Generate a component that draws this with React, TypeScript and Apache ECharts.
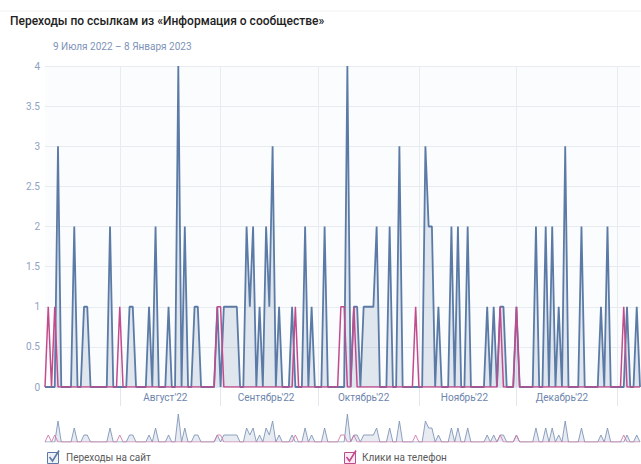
import React, { useEffect, useRef } from "react";
import * as echarts from "echarts";

const TITLE = "Переходы по ссылкам из «Информация о сообществе»";
const SUBTITLE = "9 Июля 2022 – 8 Января 2023";
const SERIES_NAMES = ["Переходы на сайт", "Клики на телефон"];

const START_DATE = Date.UTC(2022, 6, 9);
const DAY_COUNT = 184;

const MONTH_LABELS: Record<string, string> = {
  "08": "Август'22",
  "09": "Сентябрь'22",
  "10": "Октябрь'22",
  "11": "Ноябрь'22",
  "12": "Декабрь'22",
};

const Y_TICKS = { min: 0, max: 4, interval: 0.5 };

// Переходы на сайт (daily, 9 Jul 2022 – 8 Jan 2023)
const siteVisits = [
  0, 0, 0, 0, 3, 0, 0, 0, 0, 2,
  0, 0, 1, 1, 0, 0, 0, 0, 0, 0,
  2, 0, 0, 0, 0, 0, 1, 1, 0, 0,
  0, 0, 1, 0, 2, 0, 0, 0, 1, 0,
  0, 4, 0, 2, 0, 0, 1, 1, 0, 0,
  0, 0, 0, 1, 0, 1, 1, 1, 1, 1,
  0, 0, 2, 1, 2, 0, 1, 0, 2, 1,
  3, 0, 1, 0, 0, 0, 1, 0, 0, 0,
  2, 0, 1, 0, 0, 0, 2, 0, 0, 0,
  0, 0, 0, 4, 0, 1, 1, 0, 1, 1,
  1, 1, 2, 0, 0, 0, 2, 0, 0, 3,
  0, 0, 0, 0, 0, 0, 0, 3, 2, 2,
  0, 1, 0, 0, 0, 2, 0, 2, 0, 0,
  2, 0, 0, 0, 0, 0, 1, 0, 1, 0,
  1, 1, 0, 0, 0, 1, 0, 0, 0, 0,
  0, 2, 0, 0, 2, 0, 2, 0, 1, 0,
  3, 0, 0, 0, 0, 2, 0, 0, 0, 0,
  0, 1, 0, 2, 0, 0, 0, 0, 0, 1,
  0, 0, 1, 0,
];

// Клики на телефон
const phoneClicks = [
  0, 1, 0, 1, 0, 0, 0, 0, 0, 0,
  0, 0, 0, 0, 0, 0, 0, 0, 0, 0,
  0, 0, 0, 1, 0, 0, 0, 0, 0, 0,
  0, 0, 0, 0, 0, 0, 0, 0, 0, 0,
  0, 0, 0, 0, 0, 0, 0, 0, 0, 0,
  0, 0, 0, 1, 1, 0, 0, 0, 0, 0,
  0, 0, 0, 0, 0, 0, 0, 0, 0, 0,
  0, 0, 0, 0, 0, 0, 0, 1, 0, 0,
  0, 0, 0, 0, 0, 0, 0, 0, 0, 0,
  0, 1, 1, 0, 0, 1, 0, 0, 0, 0,
  0, 0, 0, 0, 0, 0, 0, 0, 0, 0,
  0, 0, 0, 0, 1, 0, 0, 0, 0, 0,
  0, 0, 0, 0, 0, 0, 0, 0, 0, 0,
  0, 0, 0, 0, 0, 0, 0, 0, 0, 0,
  1, 0, 0, 0, 0, 1, 0, 0, 0, 0,
  0, 0, 0, 0, 0, 0, 0, 0, 0, 0,
  0, 0, 0, 0, 0, 0, 0, 0, 0, 0,
  0, 0, 0, 0, 0, 0, 0, 0, 1, 0,
  0, 0, 0, 0,
];

const pad = (n: number) => (n < 10 ? "0" + n : "" + n);
const categories: string[] = Array.from({ length: DAY_COUNT }, (_, i) => {
  const d = new Date(START_DATE + i * 86400000);
  return `${d.getUTCFullYear()}-${pad(d.getUTCMonth() + 1)}-${pad(d.getUTCDate())}`;
});

const BLUE = "#5b7ba6";
const PINK = "#c24b8d";
const FONT = "Roboto, 'Noto Sans', sans-serif";

export default function App() {
  const ref = useRef<HTMLDivElement>(null);

  useEffect(() => {
    if (!ref.current) return;
    const chart = echarts.init(ref.current, undefined, { renderer: "svg" });
    const isMonthStart = (_i: number, v: string) => v.endsWith("-01");
    const isMonthLabel = (_i: number, v: string) =>
      v.endsWith("-15") && MONTH_LABELS[v.slice(5, 7)] !== undefined;

    chart.setOption({
      animation: false,
      backgroundColor: "#ffffff",
      textStyle: { fontFamily: FONT },
      grid: [
        {
          left: 45,
          top: 66,
          width: 595,
          height: 321,
          show: true,
          backgroundColor: "#fbfcfd",
          borderWidth: 0,
        },
        { left: 45, top: 414, width: 595, height: 28 },
      ],
      xAxis: [
        {
          type: "category",
          gridIndex: 0,
          data: categories,
          boundaryGap: false,
          axisLine: { show: true, lineStyle: { color: "#e3e7ed" } },
          axisTick: {
            show: true,
            interval: isMonthStart,
            length: 19,
            lineStyle: { color: "#e3e7ed" },
          },
          splitLine: {
            show: true,
            interval: isMonthStart,
            lineStyle: { color: "#e8ebf0", width: 1 },
          },
          axisLabel: {
            interval: isMonthLabel,
            formatter: (v: string) => MONTH_LABELS[v.slice(5, 7)] || "",
            color: "#6d85ad",
            fontSize: 10,
            margin: 5,
            fontFamily: FONT,
          },
        },
        {
          type: "category",
          gridIndex: 1,
          data: categories,
          boundaryGap: false,
          show: false,
        },
      ],
      yAxis: [
        {
          type: "value",
          gridIndex: 0,
          min: Y_TICKS.min,
          max: Y_TICKS.max,
          interval: Y_TICKS.interval,
          axisLine: { show: false },
          axisTick: { show: false },
          splitLine: { lineStyle: { color: "#e8ebf0" } },
          axisLabel: { color: "#8ea2c2", fontSize: 10, margin: 5, fontFamily: FONT },
        },
        { type: "value", gridIndex: 1, min: 0, max: 4, show: false },
      ],
      series: [
        {
          name: SERIES_NAMES[0],
          type: "line",
          xAxisIndex: 0,
          yAxisIndex: 0,
          data: siteVisits,
          showSymbol: false,
          lineStyle: { color: BLUE, width: 1.8 },
          itemStyle: { color: BLUE },
          areaStyle: { color: "rgba(91,123,166,0.24)" },
        },
        {
          name: SERIES_NAMES[1],
          type: "line",
          xAxisIndex: 0,
          yAxisIndex: 0,
          data: phoneClicks,
          showSymbol: false,
          lineStyle: { color: PINK, width: 1.5 },
          itemStyle: { color: PINK },
        },
        {
          name: SERIES_NAMES[0] + " ",
          type: "line",
          xAxisIndex: 1,
          yAxisIndex: 1,
          data: siteVisits,
          showSymbol: false,
          silent: true,
          lineStyle: { color: "#7f96b8", width: 0.9 },
          areaStyle: { color: "rgba(91,123,166,0.2)" },
        },
        {
          name: SERIES_NAMES[1] + " ",
          type: "line",
          xAxisIndex: 1,
          yAxisIndex: 1,
          data: phoneClicks,
          showSymbol: false,
          silent: true,
          lineStyle: { color: "#d07aaa", width: 0.9 },
        },
      ],
      graphic: [
        {
          type: "line",
          shape: { x1: 0, y1: 11, x2: 641, y2: 11 },
          style: { stroke: "#f0f1f3", lineWidth: 1 },
        },
        {
          type: "text",
          left: 10,
          top: 15,
          style: {
            text: TITLE,
            fill: "#222222",
            fontSize: 12,
            fontWeight: 500,
            fontFamily: FONT,
          },
        },
        {
          type: "text",
          left: 53,
          top: 41,
          style: {
            text: SUBTITLE,
            fill: "#7d93b8",
            fontSize: 10,
            fontFamily: FONT,
          },
        },
        {
          type: "rect",
          shape: { x: 47.5, y: 452.5, width: 11, height: 11 },
          style: { fill: "#eef2f7", stroke: BLUE, lineWidth: 1 },
        },
        {
          type: "polyline",
          shape: { points: [[49.5, 457], [52.5, 461], [59, 450.5]] },
          style: { stroke: BLUE, lineWidth: 1.6, fill: null },
        },
        {
          type: "text",
          left: 66,
          top: 452,
          style: { text: SERIES_NAMES[0], fill: "#5a5a5a", fontSize: 10, fontFamily: FONT },
        },
        {
          type: "rect",
          shape: { x: 344.5, y: 452.5, width: 11, height: 11 },
          style: { fill: "#f8edf3", stroke: PINK, lineWidth: 1 },
        },
        {
          type: "polyline",
          shape: { points: [[346.5, 457], [349.5, 461], [356, 450.5]] },
          style: { stroke: PINK, lineWidth: 1.6, fill: null },
        },
        {
          type: "text",
          left: 362,
          top: 452,
          style: { text: SERIES_NAMES[1], fill: "#5a5a5a", fontSize: 10, fontFamily: FONT },
        },
      ],
    });

    return () => chart.dispose();
  }, []);

  return (
    <div
      ref={ref}
      style={{ position: "fixed", left: 0, top: 0, width: 641, height: 464 }}
    />
  );
}
